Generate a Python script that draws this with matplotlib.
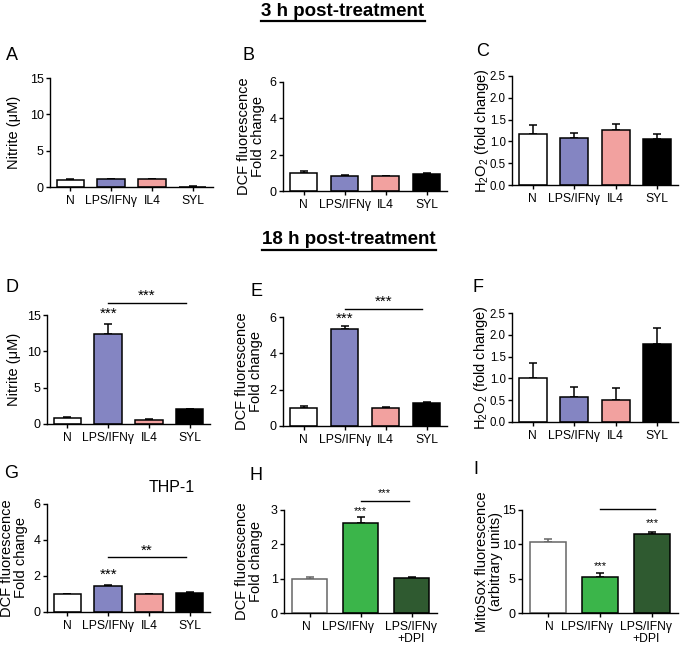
import numpy as np
import matplotlib.pyplot as plt
from matplotlib.lines import Line2D

plt.rcParams['font.family'] = ['Liberation Sans', 'DejaVu Sans']
plt.rcParams['mathtext.fontset'] = 'custom'
plt.rcParams['mathtext.rm'] = 'Liberation Sans'
plt.rcParams['mathtext.it'] = 'Liberation Sans:italic'
plt.rcParams['axes.linewidth'] = 1.0

# Données
groups4 = ['N', 'LPS/IFNγ', 'IL4', 'SYL']
groups3 = ['N', 'LPS/IFNγ', 'LPS/IFNγ\n+DPI']
col4 = ['white', '#8485c2', '#f2a19f', 'black']
col3 = ['white', '#3bb54a', '#2f5a30']

nitrite_3h = [1.0, 1.05, 1.1, 0.05]
nitrite_3h_err = [0.05, 0.05, 0.05, 0.02]
dcf_3h = [1.0, 0.83, 0.8, 0.95]
dcf_3h_err = [0.1, 0.03, 0.02, 0.03]
h2o2_3h = [1.18, 1.07, 1.26, 1.05]
h2o2_3h_err = [0.2, 0.12, 0.15, 0.13]

nitrite_18h = [0.8, 12.4, 0.6, 2.0]
nitrite_18h_err = [0.15, 1.4, 0.15, 0.1]
dcf_18h = [1.0, 5.35, 1.0, 1.28]
dcf_18h_err = [0.1, 0.15, 0.02, 0.06]
h2o2_18h = [1.0, 0.57, 0.5, 1.8]
h2o2_18h_err = [0.35, 0.24, 0.28, 0.35]

dcf_thp1 = [1.0, 1.42, 0.98, 1.08]
dcf_thp1_err = [0.02, 0.07, 0.04, 0.03]
dcf_dpi = [1.0, 2.62, 1.02]
dcf_dpi_err = [0.06, 0.18, 0.03]
mitosox = [10.4, 5.2, 11.5]
mitosox_err = [0.35, 0.6, 0.25]

W, H = 680, 648
fig = plt.figure(figsize=(6.8, 6.48), dpi=100)


def make_ax(x0, y0, x1, y1):
    # pixels -> fraction de figure
    return fig.add_axes([x0 / W, 1 - y1 / H, (x1 - x0) / W, (y1 - y0) / H])


def bars(ax, labels, vals, errs, colors, ylim, yticks, ylabel, fmt='{:g}',
         edge_white='black', lab_dx=None, ytick_fs=9):
    x = np.arange(len(vals))
    edges = [edge_white if c == 'white' else 'black' for c in colors]
    ax.bar(x, vals, width=0.68, color=colors, edgecolor=edges, linewidth=1.1, zorder=2)
    for xi, v, e, ec in zip(x, vals, errs, edges):
        ax.errorbar(xi, v, yerr=[[0], [e]], fmt='none', ecolor=ec,
                    elinewidth=1.1, capsize=3, capthick=1.1, zorder=1)
    ax.set_xlim(-0.5, len(vals) - 0.5)
    ax.set_ylim(*ylim)
    ax.set_yticks(yticks)
    ax.set_yticklabels([fmt.format(t) for t in yticks])
    ax.set_xticks(x)
    ax.set_xticklabels([])
    if lab_dx is None:
        lab_dx = [0] * len(labels)
    for xi, lab, dx in zip(x, labels, lab_dx):
        ax.annotate(lab, xy=(xi, 0), xycoords=('data', 'axes fraction'),
                    xytext=(dx, -6), textcoords='offset points',
                    ha='center', va='top', fontsize=8.7, linespacing=1.0)
    ax.tick_params(labelsize=ytick_fs, length=3, width=1, pad=1.5)
    ax.spines['top'].set_visible(False)
    ax.spines['right'].set_visible(False)
    ax.set_ylabel(ylabel, fontsize=10.5, linespacing=1.0)


def sig_line(ax, x0, x1, y, text, ty, fs=11):
    ax.plot([x0, x1], [y, y], color='black', lw=1.0, clip_on=False)
    if text:
        ax.text((x0 + x1) / 2, ty, text, ha='center', va='center', fontsize=fs)


def star(ax, x, y, text='***', fs=11):
    ax.text(x, y, text, ha='center', va='center', fontsize=fs, clip_on=False)


dcf_lab = 'DCF fluorescence\nFold change'
h2o2_lab = r'$\mathrm{H_2O_2}$ (fold change)'

# Ligne 1 : 3 h
axA = make_ax(50, 78, 213, 187)
bars(axA, groups4, nitrite_3h, nitrite_3h_err, col4, (0, 15), [0, 5, 10, 15], 'Nitrite (μM)')
axB = make_ax(283, 82, 447, 191)
bars(axB, groups4, dcf_3h, dcf_3h_err, col4, (0, 6), [0, 2, 4, 6], dcf_lab)
axC = make_ax(512, 76, 678, 185)
bars(axC, groups4, h2o2_3h, h2o2_3h_err, col4, (0, 2.5), [0, 0.5, 1, 1.5, 2, 2.5], h2o2_lab,
     fmt='{:.1f}', ytick_fs=8.3)

# Ligne 2 : 18 h
axD = make_ax(47, 315, 210, 424)
bars(axD, groups4, nitrite_18h, nitrite_18h_err, col4, (0, 15), [0, 5, 10, 15], 'Nitrite (μM)')
sig_line(axD, 1, 2.9, 16.6, '***', 17.6)
star(axD, 1, 15.1)
axE = make_ax(283, 317, 447, 426)
bars(axE, groups4, dcf_18h, dcf_18h_err, col4, (0, 6), [0, 2, 4, 6], dcf_lab)
sig_line(axE, 1, 2.9, 6.45, '***', 6.85)
star(axE, 1, 5.9)
axF = make_ax(512, 313, 678, 422)
bars(axF, groups4, h2o2_18h, h2o2_18h_err, col4, (0, 2.5), [0, 0.5, 1, 1.5, 2, 2.5], h2o2_lab,
     fmt='{:.1f}', ytick_fs=8.3)

# Ligne 3
axG = make_ax(47, 504, 210, 612)
bars(axG, groups4, dcf_thp1, dcf_thp1_err, col4, (0, 6), [0, 2, 4, 6], dcf_lab)
sig_line(axG, 1, 2.9, 3.05, '**', 3.4)
star(axG, 1, 2.05)
axG.text(2.55, 6.9, 'THP-1', ha='center', va='center', fontsize=11.5, clip_on=False)
axH = make_ax(284, 510, 437, 613)
bars(axH, groups3, dcf_dpi, dcf_dpi_err, col3, (0, 3), [0, 1, 2, 3], dcf_lab,
     edge_white='#666666', lab_dx=[-2, -9, 0])
sig_line(axH, 1, 1.95, 3.27, '***', 3.5, fs=8)
star(axH, 1, 2.97, fs=8)
axI = make_ax(522, 510, 678, 613)
bars(axI, groups3, mitosox, mitosox_err, col3, (0, 15), [0, 5, 10, 15],
     'MitoSox fluorescence\n(arbitrary units)', edge_white='#666666', lab_dx=[1, -9, -4])
sig_line(axI, 1, 2.05, 15.1, None, 0)
star(axI, 2, 13.1, fs=8)
star(axI, 1, 6.8, fs=8)

# position des titres d'axe (bord droit du texte, en fraction d'axe)
for ax, xc in [(axA, -0.178), (axD, -0.16), (axG, -0.117), (axB, -0.11), (axE, -0.122),
               (axH, -0.137), (axC, -0.128), (axF, -0.13), (axI, -0.122)]:
    ax.yaxis.set_label_coords(xc, 0.5)

# Lettres des panneaux
letters = [('A', 12, 56), ('B', 248, 55), ('C', 483, 52), ('D', 12, 288), ('E', 257, 291),
           ('F', 478, 288), ('G', 11, 474), ('H', 256, 475), ('I', 476, 470)]
for s, px, py in letters:
    fig.text(px / W, 1 - py / H, s, fontsize=13, ha='center', va='center')

# Titres soulignés
titles = []
for s, px, py in [('3 h post-treatment', 343, 11), ('18 h post-treatment', 349, 240)]:
    titles.append(fig.text(px / W, 1 - py / H, s, fontsize=13.5, fontweight='bold', ha='center', va='center'))

fig.canvas.draw()
r = fig.canvas.get_renderer()
for t in titles:
    bb = t.get_window_extent(r).transformed(fig.transFigure.inverted())
    y = bb.y0 - 1.0 / H
    fig.add_artist(Line2D([bb.x0, bb.x1], [y, y], color='black', lw=1.6, transform=fig.transFigure))

fig.savefig('out.png', dpi=100)
